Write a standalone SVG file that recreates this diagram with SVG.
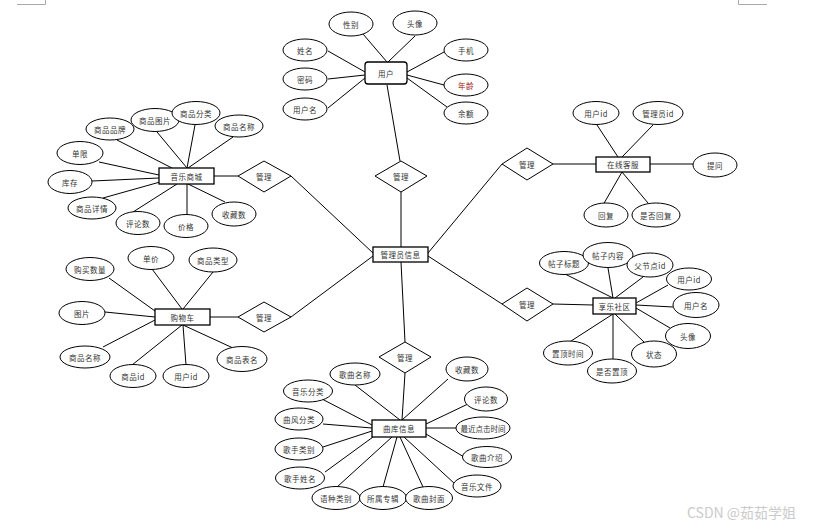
<svg xmlns="http://www.w3.org/2000/svg" width="814" height="529" viewBox="0 0 814 529">
<style>
.e{fill:#fff;stroke:#000;stroke-width:1}
.r{fill:#fff;stroke:#000;stroke-width:1.3}
.d{fill:#fff;stroke:#000;stroke-width:1}
.c line{stroke:#000;stroke-width:1}
.t{font-family:"Noto Sans CJK SC","Noto Sans",sans-serif;font-size:7.5px;fill:#333;text-anchor:middle;dominant-baseline:central;letter-spacing:0.5px}
.wm{font-family:"Noto Sans CJK SC","Liberation Sans",sans-serif;font-size:14px;fill:#cbcbcb}
.pm{stroke:#aaa;stroke-width:1;fill:none}
</style>
<rect width="814" height="529" fill="#fff"/>
<path class="pm" d="M17 4.5H45.5V0M738.5 0V4.5H767"/>
<g id="connectors" class="c">
<line x1="363" y1="34" x2="387" y2="62"/>
<line x1="415" y1="36" x2="388" y2="62"/>
<line x1="328" y1="51" x2="365" y2="72"/>
<line x1="328" y1="79" x2="365" y2="75"/>
<line x1="328" y1="108" x2="365" y2="78"/>
<line x1="444" y1="52" x2="407" y2="72"/>
<line x1="444" y1="85" x2="407" y2="75"/>
<line x1="447" y1="107" x2="407" y2="78"/>
<line x1="387" y1="85" x2="400" y2="161"/>
<line x1="401" y1="192" x2="401" y2="247" stroke-width="1.6"/>
<line x1="291" y1="176" x2="373" y2="253"/>
<line x1="291" y1="317" x2="373" y2="256"/>
<line x1="428" y1="253" x2="502" y2="164"/>
<line x1="428" y1="256" x2="502" y2="304"/>
<line x1="401" y1="262" x2="405" y2="342" stroke-width="1.3"/>
<line x1="214" y1="176" x2="238" y2="176" stroke-width="1.5"/>
<line x1="117" y1="140" x2="172" y2="168"/>
<line x1="157" y1="132" x2="187" y2="168"/>
<line x1="195" y1="125" x2="187" y2="168"/>
<line x1="233" y1="137" x2="188" y2="168"/>
<line x1="99" y1="162" x2="159" y2="175"/>
<line x1="92" y1="181" x2="159" y2="178"/>
<line x1="103" y1="198" x2="160" y2="182"/>
<line x1="133" y1="212" x2="177" y2="184"/>
<line x1="187" y1="215" x2="187" y2="184"/>
<line x1="225" y1="202" x2="188" y2="184"/>
<line x1="553" y1="164" x2="596" y2="164" stroke-width="1.3"/>
<line x1="597" y1="125" x2="618" y2="157"/>
<line x1="653" y1="125" x2="622" y2="157"/>
<line x1="650" y1="164" x2="693" y2="164" stroke-width="1.3"/>
<line x1="603" y1="205" x2="622" y2="172"/>
<line x1="648" y1="203" x2="622" y2="172"/>
<line x1="210" y1="317" x2="238" y2="317" stroke-width="1.6"/>
<line x1="109" y1="278" x2="155" y2="311"/>
<line x1="152" y1="269" x2="182" y2="309"/>
<line x1="213" y1="272" x2="183" y2="309"/>
<line x1="105" y1="312" x2="155" y2="317"/>
<line x1="103" y1="347" x2="155" y2="320"/>
<line x1="132" y1="365" x2="182" y2="325"/>
<line x1="186" y1="365" x2="183" y2="325"/>
<line x1="233" y1="348" x2="183" y2="325"/>
<line x1="553" y1="304" x2="593" y2="305" stroke-width="1.3"/>
<line x1="565" y1="274" x2="613" y2="298"/>
<line x1="608" y1="268" x2="613" y2="298"/>
<line x1="643" y1="277" x2="615" y2="298"/>
<line x1="668" y1="285" x2="636" y2="303"/>
<line x1="673" y1="307" x2="636" y2="305"/>
<line x1="670" y1="328" x2="636" y2="308"/>
<line x1="645" y1="343" x2="615" y2="314"/>
<line x1="568" y1="343" x2="613" y2="314"/>
<line x1="613" y1="359" x2="613" y2="314"/>
<line x1="405" y1="373" x2="402" y2="420"/>
<line x1="355" y1="385" x2="400" y2="420"/>
<line x1="448" y1="379" x2="402" y2="420"/>
<line x1="322" y1="399" x2="372" y2="425"/>
<line x1="323" y1="424" x2="372" y2="428"/>
<line x1="323" y1="447" x2="372" y2="431"/>
<line x1="325" y1="472" x2="373" y2="437"/>
<line x1="337" y1="487" x2="392" y2="437"/>
<line x1="383" y1="487" x2="397" y2="437"/>
<line x1="423" y1="487" x2="400" y2="437"/>
<line x1="455" y1="484" x2="404" y2="437"/>
<line x1="464" y1="457" x2="426" y2="434"/>
<line x1="456" y1="428" x2="426" y2="428" stroke-width="1.3"/>
<line x1="468" y1="404" x2="426" y2="424"/>
</g>
<g id="user"><rect class="r" x="365" y="62" width="42" height="22" rx="3"/><text class="t" x="386" y="73">用户</text></g>
<g id="a-gender"><ellipse class="e" cx="351" cy="24" rx="22" ry="12"/><text class="t" x="351" y="24">性别</text></g>
<g id="a-avatar"><ellipse class="e" cx="415" cy="23" rx="22" ry="12"/><text class="t" x="415" y="23">头像</text></g>
<g id="a-name"><ellipse class="e" cx="305" cy="50" rx="22" ry="11"/><text class="t" x="305" y="50">姓名</text></g>
<g id="a-pwd"><ellipse class="e" cx="305" cy="79" rx="22" ry="11"/><text class="t" x="305" y="79">密码</text></g>
<g id="a-uname"><ellipse class="e" cx="305" cy="109" rx="22" ry="11"/><text class="t" x="305" y="109">用户名</text></g>
<g id="a-phone"><ellipse class="e" cx="466" cy="50" rx="22" ry="11"/><text class="t" x="466" y="50">手机</text></g>
<g id="a-age"><ellipse class="e" cx="466" cy="85" rx="22" ry="11"/><text class="t" x="466" y="85" style="fill:#a01010">年龄</text></g>
<g id="a-balance"><ellipse class="e" cx="466" cy="113" rx="22" ry="11"/><text class="t" x="466" y="113">余额</text></g>
<g id="admin"><rect class="r" x="373" y="247" width="55" height="15"/><text class="t" x="400.5" y="254.5">管理员信息</text></g>
<g id="m-top"><polygon class="d" points="375,176 401,161 427,176 401,192"/><text class="t" x="401" y="176">管理</text></g>
<g id="m-mall"><polygon class="d" points="238,176 264,161 291,176 264,192"/><text class="t" x="264" y="176">管理</text></g>
<g id="m-cart"><polygon class="d" points="238,317 264,302 291,317 264,332"/><text class="t" x="264" y="317">管理</text></g>
<g id="m-service"><polygon class="d" points="502,164 527,148 553,164 527,180"/><text class="t" x="527" y="164">管理</text></g>
<g id="m-community"><polygon class="d" points="502,304 527,288 553,304 527,321"/><text class="t" x="527" y="304">管理</text></g>
<g id="m-library"><polygon class="d" points="379,357 405,342 431,357 405,373"/><text class="t" x="405" y="357">管理</text></g>
<g id="mall"><rect class="r" x="159" y="168" width="55" height="16"/><text class="t" x="186.5" y="176">音乐商城</text></g>
<g id="b-brand"><ellipse class="e" cx="110" cy="129" rx="24" ry="11"/><text class="t" x="110" y="129">商品品牌</text></g>
<g id="b-img"><ellipse class="e" cx="155" cy="120" rx="24" ry="11.5"/><text class="t" x="155" y="120">商品图片</text></g>
<g id="b-cat"><ellipse class="e" cx="196" cy="113" rx="24" ry="11.5"/><text class="t" x="196" y="113">商品分类</text></g>
<g id="b-name"><ellipse class="e" cx="239" cy="126" rx="24" ry="11"/><text class="t" x="239" y="126">商品名称</text></g>
<g id="b-price1"><ellipse class="e" cx="80" cy="153" rx="23" ry="11.5"/><text class="t" x="80" y="153">单限</text></g>
<g id="b-stock"><ellipse class="e" cx="70" cy="182" rx="22" ry="11.5"/><text class="t" x="70" y="182">库存</text></g>
<g id="b-detail"><ellipse class="e" cx="92" cy="208" rx="24" ry="11"/><text class="t" x="92" y="208">商品详情</text></g>
<g id="b-comments"><ellipse class="e" cx="138" cy="223" rx="22" ry="11.5"/><text class="t" x="138" y="223">评论数</text></g>
<g id="b-price"><ellipse class="e" cx="186" cy="226" rx="22" ry="11.5"/><text class="t" x="186" y="226">价格</text></g>
<g id="b-fav"><ellipse class="e" cx="234" cy="214" rx="22" ry="12"/><text class="t" x="234" y="214">收藏数</text></g>
<g id="service"><rect class="r" x="596" y="157" width="54" height="15"/><text class="t" x="623" y="164.5">在线客服</text></g>
<g id="s-uid"><ellipse class="e" cx="596" cy="113" rx="23" ry="11.5"/><text class="t" x="596" y="113">用户id</text></g>
<g id="s-aid"><ellipse class="e" cx="658" cy="113" rx="25" ry="11.5"/><text class="t" x="658" y="113">管理员id</text></g>
<g id="s-ask"><ellipse class="e" cx="715" cy="165" rx="22" ry="12"/><text class="t" x="715" y="165">提问</text></g>
<g id="s-reply"><ellipse class="e" cx="606" cy="215" rx="22" ry="12"/><text class="t" x="606" y="215">回复</text></g>
<g id="s-replied"><ellipse class="e" cx="656" cy="215" rx="24" ry="12"/><text class="t" x="656" y="215">是否回复</text></g>
<g id="cart"><rect class="r" x="155" y="309" width="55" height="16"/><text class="t" x="182.5" y="317">购物车</text></g>
<g id="c-qty"><ellipse class="e" cx="90" cy="269" rx="24" ry="11.5"/><text class="t" x="90" y="269">购买数量</text></g>
<g id="c-unit"><ellipse class="e" cx="151" cy="258" rx="23" ry="11.5"/><text class="t" x="151" y="258">单价</text></g>
<g id="c-type"><ellipse class="e" cx="213" cy="260" rx="24" ry="12"/><text class="t" x="213" y="260">商品类型</text></g>
<g id="c-pic"><ellipse class="e" cx="82" cy="313" rx="23" ry="11.5"/><text class="t" x="82" y="313">图片</text></g>
<g id="c-name"><ellipse class="e" cx="85" cy="357" rx="25" ry="11"/><text class="t" x="85" y="357">商品名称</text></g>
<g id="c-gid"><ellipse class="e" cx="133" cy="376" rx="23" ry="11.5"/><text class="t" x="133" y="376">商品id</text></g>
<g id="c-uid"><ellipse class="e" cx="186" cy="376" rx="23" ry="11.5"/><text class="t" x="186" y="376">用户id</text></g>
<g id="c-table"><ellipse class="e" cx="242" cy="359" rx="25" ry="12.5"/><text class="t" x="242" y="359">商品表名</text></g>
<g id="community"><rect class="r" x="593" y="298" width="43" height="16"/><text class="t" x="614.5" y="306">享乐社区</text></g>
<g id="p-title"><ellipse class="e" cx="564" cy="263" rx="24.5" ry="11.5"/><text class="t" x="564" y="263">帖子标题</text></g>
<g id="p-content"><ellipse class="e" cx="608" cy="255" rx="25" ry="12.5"/><text class="t" x="608" y="255">帖子内容</text></g>
<g id="p-parent"><ellipse class="e" cx="650" cy="265" rx="23" ry="12"/><text class="t" x="650" y="265">父节点id</text></g>
<g id="p-uid"><ellipse class="e" cx="689" cy="279" rx="22.5" ry="11"/><text class="t" x="689" y="279">用户id</text></g>
<g id="p-uname"><ellipse class="e" cx="696" cy="305" rx="23" ry="12.5"/><text class="t" x="696" y="305">用户名</text></g>
<g id="p-avatar"><ellipse class="e" cx="688" cy="336" rx="22.5" ry="12.5"/><text class="t" x="688" y="336">头像</text></g>
<g id="p-state"><ellipse class="e" cx="654" cy="354" rx="22.5" ry="13"/><text class="t" x="654" y="354">状态</text></g>
<g id="p-toptime"><ellipse class="e" cx="568" cy="353" rx="24.5" ry="12"/><text class="t" x="568" y="353">置顶时间</text></g>
<g id="p-istop"><ellipse class="e" cx="612" cy="371" rx="24.5" ry="12"/><text class="t" x="612" y="371">是否置顶</text></g>
<g id="library"><rect class="r" x="372" y="420" width="54" height="17"/><text class="t" x="399" y="428.5">曲库信息</text></g>
<g id="l-song"><ellipse class="e" cx="355" cy="374" rx="25" ry="11"/><text class="t" x="355" y="374">歌曲名称</text></g>
<g id="l-fav"><ellipse class="e" cx="467" cy="369" rx="21" ry="12"/><text class="t" x="467" y="369">收藏数</text></g>
<g id="l-cat"><ellipse class="e" cx="308" cy="391" rx="24.5" ry="11"/><text class="t" x="308" y="391">音乐分类</text></g>
<g id="l-comments"><ellipse class="e" cx="486" cy="399" rx="21.5" ry="12"/><text class="t" x="486" y="399">评论数</text></g>
<g id="l-style"><ellipse class="e" cx="299" cy="419" rx="24" ry="11"/><text class="t" x="299" y="419">曲风分类</text></g>
<g id="l-click"><ellipse class="e" cx="483" cy="428" rx="27" ry="11"/><text class="t" x="483" y="428" style="letter-spacing:0">最近点击时间</text></g>
<g id="l-singertype"><ellipse class="e" cx="299" cy="449" rx="24" ry="11"/><text class="t" x="299" y="449">歌手类别</text></g>
<g id="l-intro"><ellipse class="e" cx="487" cy="457" rx="24.5" ry="10.5"/><text class="t" x="487" y="457">歌曲介绍</text></g>
<g id="l-singer"><ellipse class="e" cx="300" cy="478" rx="24.5" ry="11"/><text class="t" x="300" y="478">歌手姓名</text></g>
<g id="l-file"><ellipse class="e" cx="477" cy="486" rx="24" ry="11"/><text class="t" x="477" y="486">音乐文件</text></g>
<g id="l-lang"><ellipse class="e" cx="336" cy="498" rx="24" ry="11.5"/><text class="t" x="336" y="498">语种类别</text></g>
<g id="l-album"><ellipse class="e" cx="383" cy="498" rx="23.5" ry="11.5"/><text class="t" x="383" y="498">所属专辑</text></g>
<g id="l-cover"><ellipse class="e" cx="429" cy="498" rx="23.5" ry="11.5"/><text class="t" x="429" y="498">歌曲封面</text></g>
<text class="wm" x="687" y="518">CSDN @茹茹学姐</text>
</svg>
